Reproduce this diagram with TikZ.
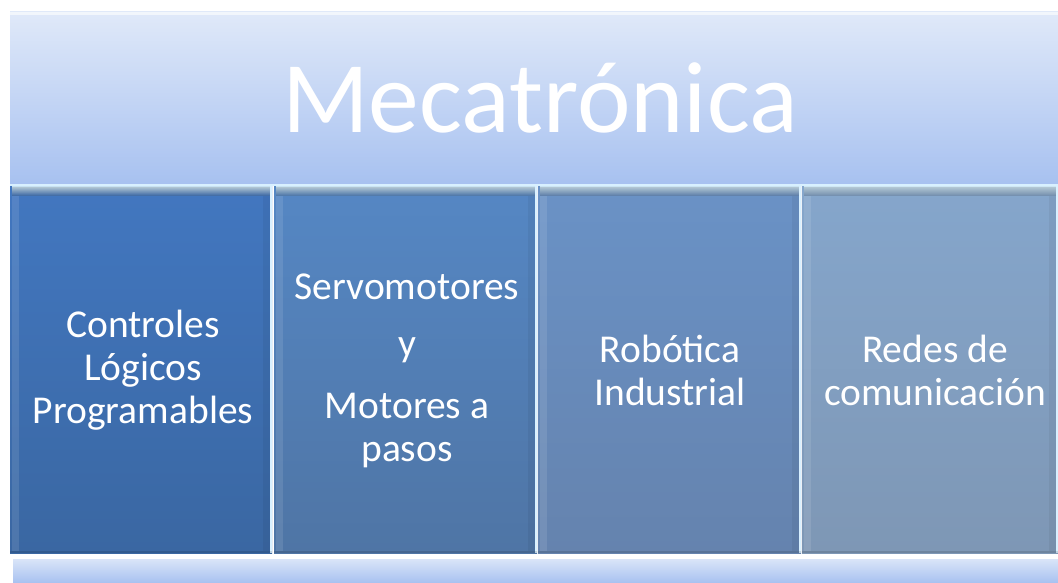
\documentclass[tikz,border=0pt]{standalone}
\usepackage{fontspec}
\setmainfont{Carlito}
\definecolor{bandtop}{HTML}{E0E9F9}
\definecolor{bandbot}{HTML}{A7C1F0}
\definecolor{cAt}{HTML}{4277C0}\definecolor{cAb}{HTML}{3A67A2}
\definecolor{cBt}{HTML}{5587C4}\definecolor{cBb}{HTML}{4F75A5}
\definecolor{cCt}{HTML}{6A92C6}\definecolor{cCb}{HTML}{6583AE}
\definecolor{cDt}{HTML}{85A6CC}\definecolor{cDb}{HTML}{7E97B5}
\definecolor{hilite}{HTML}{D8F0FF}
\tikzset{
  band/.style={top color=bandtop, bottom color=bandbot, draw=none},
  coltext/.style={text=white, font=\fontsize{39.5}{43}\selectfont, align=center, inner sep=0pt},
}
\begin{document}
\begin{tikzpicture}[x=1pt,y=-1pt]
\useasboundingbox (0,0) rectangle (1058,583);
\fill[white] (0,0) rectangle (1058,583);
% top band
\fill[band] (10,12) rectangle (1058,185);
\fill[white,opacity=0.6] (10,12) rectangle (1058,15);
\node[text=white, font=\fontsize{101.5}{110}\selectfont, inner sep=0pt] (title) at (540,98) {Mecatrónica};
% bottom band
\fill[band] (13,556) rectangle (1058,583);
\fill[white] (13,556) rectangle (1058,559);
% columns
\foreach \xa/\xb/\ct/\cb in {10/272/cAt/cAb, 274/537/cBt/cBb, 538/801/cCt/cCb, 802/1058/cDt/cDb}{
  \fill[top color=\ct, bottom color=\cb] (\xa,185) rectangle (\xb,553);
  \fill[top color=hilite, bottom color=\ct, opacity=0.8] (\xa+2,187) rectangle (\xb-2,196);
  \fill[white,opacity=0.1] (\xa+2,196) rectangle (\xa+9,551);
  \fill[black,opacity=0.05] (\xb-9,196) rectangle (\xb-2,551);
  \fill[hilite] (\xb-2,185) rectangle (\xb,553);
  \fill[black,opacity=0.12] (\xa,551) rectangle (\xb,553);
}
\draw[hilite, line width=1.5pt] (10,185) -- (1058,185);
\node[coltext] (c1) at (143,370) {Controles\\Lógicos\\Programables};
\node[coltext] (c2a) at (407,287) {Servomotores};
\node[coltext] (c2b) at (407,350) {y};
\node[coltext] (c2c) at (407,431) {Motores a\\pasos};
\node[coltext] (c3) at (670,370) {Robótica\\Industrial};
\node[coltext] (c4) at (935,370) {Redes de\\comunicación};
\end{tikzpicture}
\end{document}
